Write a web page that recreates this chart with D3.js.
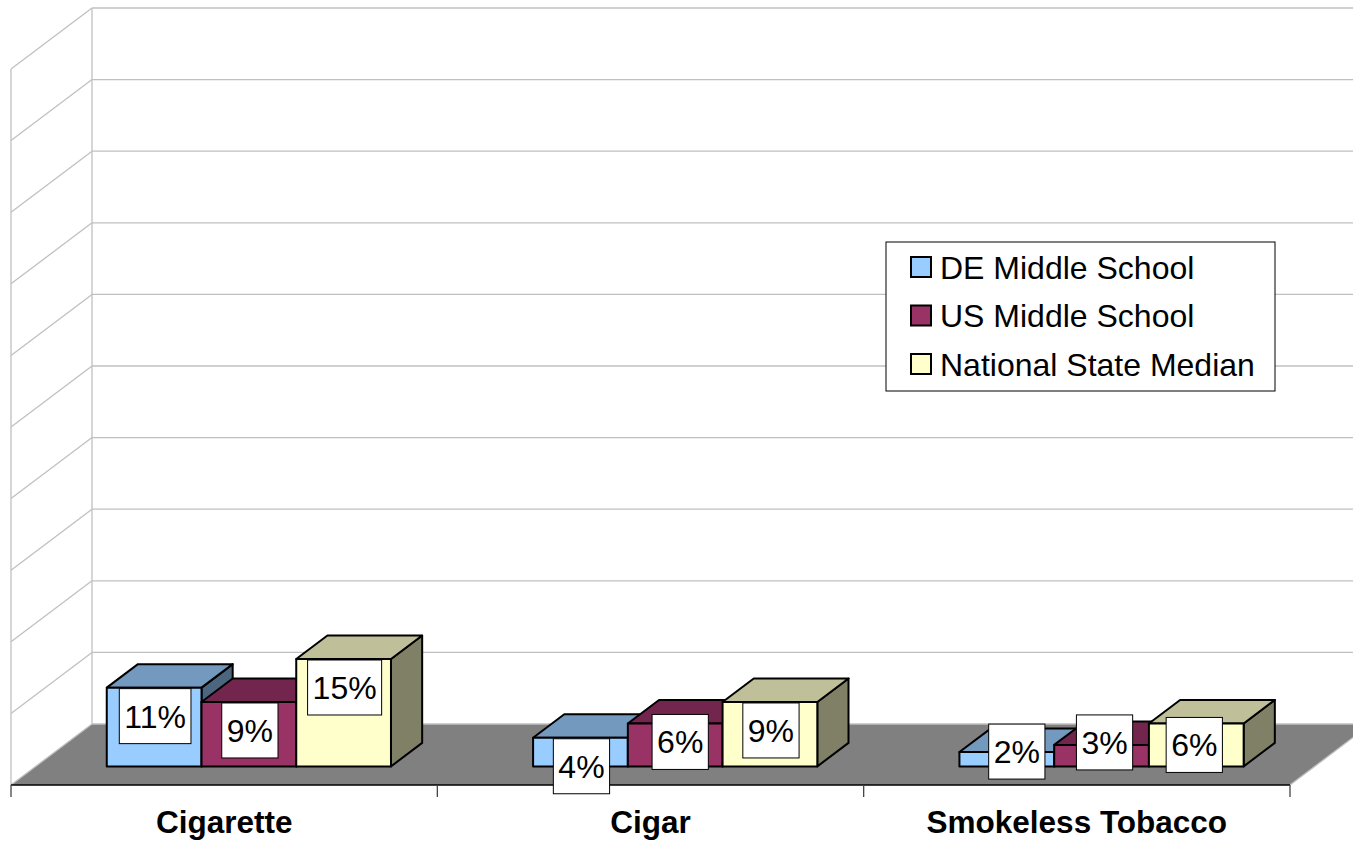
<!DOCTYPE html>
<html><head><meta charset="utf-8">
<script src="https://cdn.jsdelivr.net/npm/d3@7"></script>
<style>html,body{margin:0;padding:0;background:#fff;}svg{display:block;}</style>
</head><body>
<svg id="chart" width="1353" height="843"></svg>
<script>
const categories = ["Cigarette", "Cigar", "Smokeless Tobacco"];
const seriesNames = ["DE Middle School", "US Middle School", "National State Median"];
const deMiddle = [11, 4, 2];
const usMiddle = [9, 6, 3];
const nationalMedian = [15, 9, 6];
const yTicks = [0, 10, 20, 30, 40, 50, 60, 70, 80, 90, 100];

const seriesValues = [deMiddle, usMiddle, nationalMedian];
const colors = [
  {front: "#99CCFF", top: "#7399BF", side: "#4D6680"},
  {front: "#993366", top: "#73264D", side: "#4D1A33"},
  {front: "#FFFFCC", top: "#BFBF99", side: "#808066"}
];
// manual label placement offsets (as dragged in the original), per category row, per series
const labelNudge = [
  [[0, 0], [0, 0], [0, 0]],
  [[0, 0], [4, -10], [0, 0]],
  [[9, -29], [2, -31], [-3, -7]]
];

const svg = d3.select("#chart");
const FONT = "Arial, 'Liberation Sans', sans-serif";
const DX = 81, DY = 61;           // full depth offset
const Z0 = 0.305, Z1 = 0.69;      // bar depth slice
const frontLeft = 11, frontRight = 1290;

const x = d3.scaleBand().domain(categories).range([frontLeft, frontRight]);
const groupW = x.bandwidth() * 3 / 4.5;
const xs = d3.scaleBand().domain(seriesNames).range([0, groupW]);
const y = d3.scaleLinear().domain([0, 100]).range([785, 69]);

const gridColor = "#C0C0C0";

// Floor
const y0 = y(0);
svg.append("polygon")
  .attr("points", [[frontLeft, y0], [frontRight, y0], [frontRight + DX, y0 - DY], [frontLeft + DX, y0 - DY]].map(p => p.join(",")).join(" "))
  .attr("fill", "#808080");

// Walls: gridlines
const grid = svg.append("g").attr("fill", "none").attr("stroke", gridColor).attr("stroke-width", 1.3);
yTicks.forEach(v => {
  const yy = y(v);
  grid.append("line").attr("x1", frontLeft).attr("y1", yy).attr("x2", frontLeft + DX).attr("y2", yy - DY);
  grid.append("line").attr("x1", frontLeft + DX).attr("y1", yy - DY).attr("x2", frontRight + DX).attr("y2", yy - DY);
});
grid.append("line").attr("x1", frontLeft).attr("y1", y(100)).attr("x2", frontLeft).attr("y2", y(0));
grid.append("line").attr("x1", frontLeft + DX).attr("y1", y(100) - DY).attr("x2", frontLeft + DX).attr("y2", y(0) - DY);
grid.append("line").attr("x1", frontRight).attr("y1", y0).attr("x2", frontRight + DX).attr("y2", y0 - DY);

// Category axis line and ticks
svg.append("line").attr("x1", frontLeft).attr("y1", y0).attr("x2", frontRight).attr("y2", y0)
  .attr("stroke", "#000").attr("stroke-width", 1.5);
const tickXs = categories.map(c => x(c)).concat([x.range()[1]]);
svg.append("g").selectAll("line").data(tickXs).join("line")
  .attr("x1", d => d).attr("x2", d => d).attr("y1", y0).attr("y2", y0 + 12)
  .attr("stroke", "#444").attr("stroke-width", 1.3);

// Bars
const bars = [];
categories.forEach((c, ci) => {
  seriesNames.forEach((s, si) => {
    bars.push({cat: c, ci, ser: s, si, v: seriesValues[si][ci]});
  });
});
const dz = Z1 - Z0;
const ddx = dz * DX, ddy = dz * DY;
const barG = svg.append("g").attr("stroke", "#000").attr("stroke-width", 2).attr("stroke-linejoin", "round");
const geo = bars.map(b => {
  const bx = x(b.cat) + (x.bandwidth() - groupW) / 2 + xs(b.ser) + Z0 * DX;
  const w = xs.bandwidth();
  const yt = y(b.v) - Z0 * DY;
  const yb = y(0) - Z0 * DY;
  return {b, bx, w, yt, yb};
});
geo.forEach(g => {
  const {bx, w, yt, yb, b} = g;
  const c = colors[b.si];
  const pts = a => a.map(p => p.join(",")).join(" ");
  barG.append("polygon").attr("fill", c.side)
    .attr("points", pts([[bx + w, yt], [bx + w + ddx, yt - ddy], [bx + w + ddx, yb - ddy], [bx + w, yb]]));
  barG.append("polygon").attr("fill", c.top)
    .attr("points", pts([[bx, yt], [bx + w, yt], [bx + w + ddx, yt - ddy], [bx + ddx, yt - ddy]]));
  barG.append("rect").attr("fill", c.front)
    .attr("x", bx).attr("y", yt).attr("width", w).attr("height", yb - yt);
});

// Data labels
const labG = svg.append("g");
geo.forEach(g => {
  const {bx, w, yt, b} = g;
  const nd = labelNudge[b.ci][b.si];
  const cx = bx + w / 2 + 1 + nd[0];
  const lg = labG.append("g");
  const t = lg.append("text").attr("x", cx).attr("text-anchor", "middle")
    .attr("font-family", FONT).attr("font-size", 32).attr("fill", "#000")
    .text(b.v + "%");
  const tw = t.node().getComputedTextLength();
  const bw = tw + 10, bh = 55;
  const top = yt + 1 + nd[1];
  lg.insert("rect", "text").attr("x", cx - bw / 2).attr("y", top).attr("width", bw).attr("height", bh)
    .attr("fill", "#fff").attr("stroke", "#000").attr("stroke-width", 1);
  t.attr("y", top + bh / 2 + 11.5);
});

// Category labels
svg.append("g").selectAll("text").data(categories).join("text")
  .attr("x", d => x(d) + x.bandwidth() / 2).attr("y", 833)
  .attr("text-anchor", "middle").attr("font-family", FONT).attr("font-weight", "bold")
  .attr("font-size", 31.5).attr("fill", "#000").text(d => d);

// Legend
const leg = svg.append("g").attr("transform", "translate(886,242)");
leg.append("rect").attr("width", 389).attr("height", 149).attr("fill", "#fff").attr("stroke", "#000").attr("stroke-width", 1);
seriesNames.forEach((s, i) => {
  const row = leg.append("g").attr("transform", `translate(0,${15 + i * 48.5})`);
  row.append("rect").attr("x", 25).attr("y", 0).attr("width", 20).attr("height", 20)
    .attr("fill", colors[i].front).attr("stroke", "#000").attr("stroke-width", 2);
  row.append("text").attr("x", 54).attr("y", 21.5).attr("font-family", FONT).attr("font-size", 32)
    .attr("fill", "#000").text(s);
});
</script>
</body></html>
